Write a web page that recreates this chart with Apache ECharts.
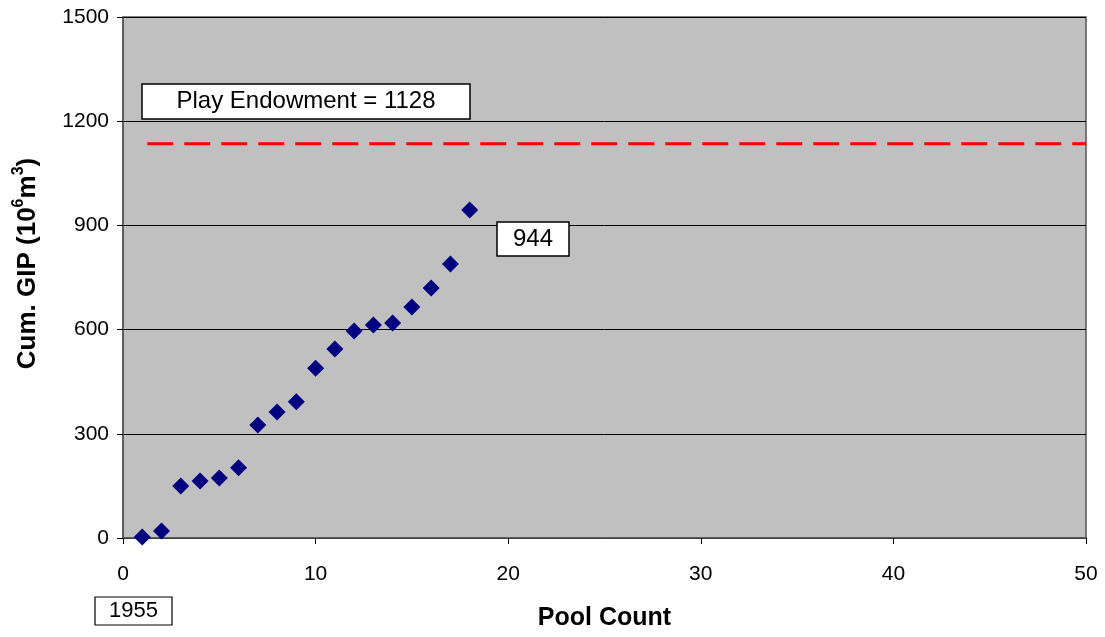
<!DOCTYPE html>
<html><head><meta charset="utf-8">
<script src="https://cdn.jsdelivr.net/npm/echarts@6/dist/echarts.min.js"></script>
<style>html,body{margin:0;padding:0;background:#fff}#c{width:1105px;height:637px}</style>
</head><body><div id="c"></div>
<script>
const poolCount = [1,2,3,4,5,6,7,8,9,10,11,12,13,14,15,16,17,18];
const cumGIP = [3,20,150,164,173,202,325,363,392,489,544,596,613,619,665,720,789,944];
const endowmentX = [1,50];
const endowmentY = [1135,1135];
const xTicks = [0,10,20,30,40,50];
const yTicks = [0,300,600,900,1200,1500];

const chart = echarts.init(document.getElementById('c'));
const font = '"Liberation Sans", Arial, sans-serif';
chart.setOption({
  animation:false,
  backgroundColor:'#fff',
  grid:{left:123,right:19,top:17,bottom:99,show:true,backgroundColor:'#C0C0C0',borderColor:'#555',borderWidth:1.5},
  xAxis:{type:'value',min:xTicks[0],max:xTicks[xTicks.length-1],interval:10,
    name:'Pool Count',nameLocation:'middle',nameGap:68,
    nameTextStyle:{fontFamily:font,fontSize:25,fontWeight:'bold',color:'#000'},
    axisLine:{show:true,onZero:false,lineStyle:{color:'#555',width:1.5}},
    axisTick:{show:true,inside:false,length:6,lineStyle:{color:'#000'}},
    axisLabel:{fontFamily:font,fontSize:21,color:'#000',margin:26,formatter:v=>String(v)},
    splitLine:{show:false}},
  yAxis:{type:'value',min:yTicks[0],max:yTicks[yTicks.length-1],interval:300,
    name:'{a|Cum. GIP (10}{s|6}{a|m}{s|3}{a|)}',nameLocation:'middle',nameGap:82,nameRotate:90,
    nameTextStyle:{padding:[0,0,0,28],rich:{
      a:{fontFamily:font,fontSize:26,fontWeight:'bold',color:'#000',lineHeight:30,verticalAlign:'bottom'},
      s:{fontFamily:font,fontSize:16,fontWeight:'bold',color:'#000',lineHeight:30,verticalAlign:'top'}}},
    axisLine:{show:true,lineStyle:{color:'#555',width:1.5}},
    axisTick:{show:true,inside:false,length:6,lineStyle:{color:'#000'}},
    axisLabel:{fontFamily:font,fontSize:21,color:'#000',margin:14,formatter:v=>String(v)},
    splitLine:{show:true,lineStyle:{color:'#000',width:1}}},
  series:[
    {type:'line',data:endowmentX.map((x,i)=>[x,endowmentY[i]]),symbol:'none',
     lineStyle:{color:'#FF0000',width:3,type:[26,11],dashOffset:-5},z:2},
    {type:'scatter',data:poolCount.map((x,i)=>[x,cumGIP[i]]),symbol:'diamond',symbolSize:17,
     itemStyle:{color:'#000080',opacity:1},z:3}
  ],
  graphic:[
    {type:'rect',shape:{x:142,y:84,width:328,height:35},style:{fill:'#fff',stroke:'#000',lineWidth:1.5},z:10},
    {type:'text',x:306,y:101.5,style:{text:'Play Endowment = 1128',font:'24px '+font,fill:'#000',textAlign:'center',textVerticalAlign:'middle'},z:11},
    {type:'rect',shape:{x:497,y:222,width:72,height:34},style:{fill:'#fff',stroke:'#000',lineWidth:1.5},z:10},
    {type:'text',x:533,y:239,style:{text:'944',font:'24px '+font,fill:'#000',textAlign:'center',textVerticalAlign:'middle'},z:11},
    {type:'rect',shape:{x:95,y:597,width:77,height:28},style:{fill:'#fff',stroke:'#000',lineWidth:1.2},z:10},
    {type:'text',x:133.5,y:611,style:{text:'1955',font:'22px '+font,fill:'#000',textAlign:'center',textVerticalAlign:'middle'},z:11}
  ]
});
</script></body></html>
